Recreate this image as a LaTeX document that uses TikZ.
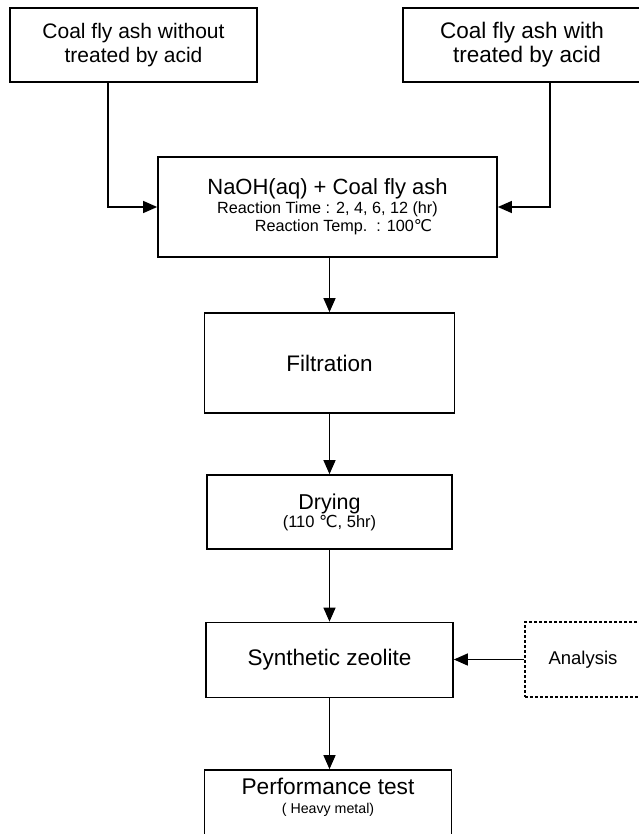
\documentclass[tikz,border=0pt]{standalone}
\usepackage{fontspec}
\setmainfont{Liberation Sans}
\newfontfamily\degfont{DejaVu Sans}
\newcommand{\degC}{{\degfont ℃}}
\usetikzlibrary{arrows.meta}
\usetikzlibrary{positioning}

\tikzset{
    box/.style={draw, shape=rectangle, line width=1.7pt, align=center, inner sep=0pt,
        font=\fontsize{21.5}{25}\selectfont},
    dashbox/.style={box, line width=1.4pt, dash pattern=on 3pt off 2pt},
    flow/.style={-{Triangle[length=14pt, width=12pt]}, line width=1.3pt},
}
\newcommand{\subtext}{\fontsize{16.2}{18}\selectfont}

\begin{document}
\begin{tikzpicture}[x=1pt, y=-1pt]
    \useasboundingbox (0,0) rectangle (638,834);

    \node[box, minimum width=247pt, minimum height=74pt,
        font=\fontsize{21}{24}\selectfont](untreated) at (133.5,45)
        {Coal fly ash without\\treated by acid};
    \node[box, minimum width=238pt, minimum height=74pt,
        font=\fontsize{22.5}{24}\selectfont](treated) at (522,45)
        {Coal fly ash with\\\hspace*{10pt}treated by acid};

    \node[box, minimum width=339pt, minimum height=100pt](mix) at (327.5,207)
        {{\fontsize{22}{25}\selectfont NaOH(aq) + Coal fly ash}\\[-6pt]
         \subtext Reaction Time : 2, 4, 6, 12 (hr)\\[-7pt]
         \subtext \hspace*{32pt}Reaction Temp.~~: 100\degC};
    \node[box, minimum width=250pt, minimum height=100pt,
        font=\fontsize{22.5}{25}\selectfont](filt) at (329.5,363) {Filtration};
    \node[box, minimum width=245pt, minimum height=74pt](dry) at (329.5,512)
        {Drying\\[-7pt]{\fontsize{16.5}{18}\selectfont (110 \degC, 5hr)}};
    \node[box, minimum width=247pt, minimum height=75pt,
        font=\fontsize{22.5}{25}\selectfont](zeo) at (329.5,660) {Synthetic zeolite};
    \node[dashbox, minimum width=116pt, minimum height=75pt,
        font=\fontsize{18.5}{22}\selectfont](ana) at (583,659.5) {Analysis};
    \node[box, minimum width=247pt, minimum height=66pt, text depth=15pt,
        font=\fontsize{22.7}{25}\selectfont](perf) at (328,803)
        {Performance test\\[-6pt]{\fontsize{14.2}{16}\selectfont ( Heavy metal)}};

    \draw[flow] ([xshift=-25.5pt]untreated.south) |- (mix.west);
    \draw[flow] ([xshift=28pt]treated.south) |- (mix.east);

    \draw[flow] (mix.south -| filt.north) -- (filt.north);
    \draw[flow] (filt.south) -- (filt.south |- dry.north);
    \draw[flow] (dry.south) -- (dry.south |- zeo.north);
    \draw[flow] (zeo.south) -- (zeo.south |- perf.north);

    \draw[flow] (ana.west) -- (ana.west -| zeo.east);
\end{tikzpicture}
\end{document}
